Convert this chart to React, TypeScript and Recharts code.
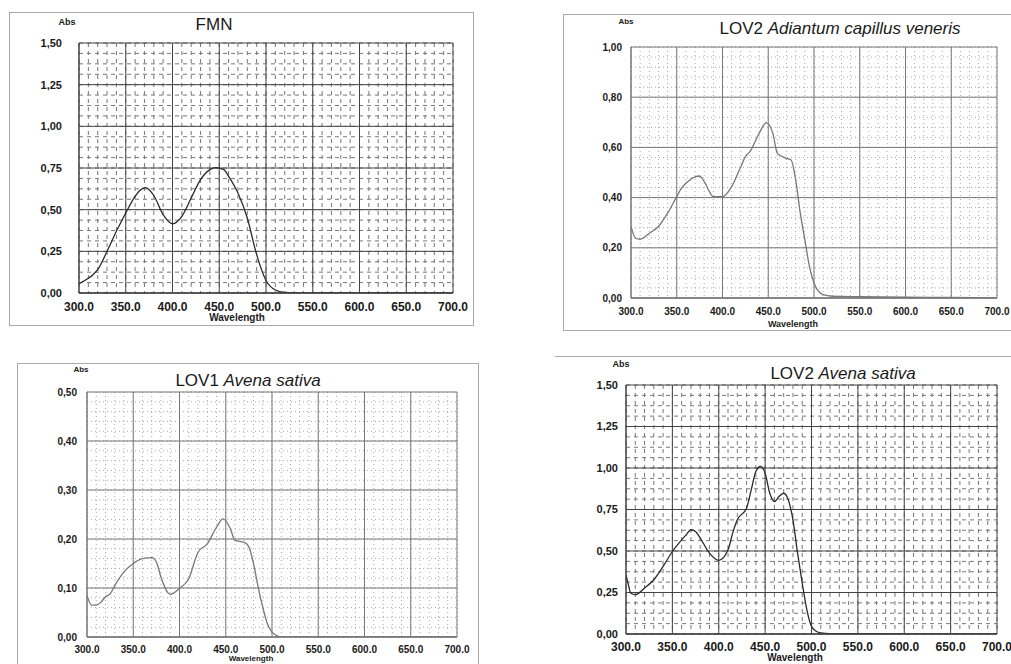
import React from "react";
import { LineChart, Line, XAxis, YAxis, CartesianGrid } from "recharts";

// ---------- DATA ----------
const xTickValues = [300, 350, 400, 450, 500, 550, 600, 650, 700];

const fmnWavelength = [300, 310, 315, 320, 330, 340, 350, 360, 365, 371, 380, 390, 400, 410, 420, 430, 440, 446, 455, 460, 470, 480, 490, 500, 510, 520, 530, 600, 700];
const fmnAbs = [0.056, 0.088, 0.11, 0.14, 0.25, 0.37, 0.48, 0.58, 0.615, 0.632, 0.585, 0.47, 0.415, 0.46, 0.57, 0.68, 0.74, 0.752, 0.74, 0.7, 0.6, 0.45, 0.23, 0.075, 0.018, 0.003, 0, 0, 0];
const fmnYTicks = [0, 0.25, 0.5, 0.75, 1.0, 1.25, 1.5];

const adiWavelength = [300, 305, 310, 320, 330, 340, 350, 355, 360, 370, 375, 380, 390, 400, 410, 420, 425, 430, 440, 448, 455, 460, 470, 475, 480, 485, 490, 495, 500, 505, 510, 520, 550, 600, 650, 700];
const adiAbs = [0.285, 0.238, 0.234, 0.258, 0.285, 0.338, 0.404, 0.437, 0.457, 0.483, 0.486, 0.464, 0.404, 0.404, 0.444, 0.523, 0.563, 0.583, 0.656, 0.699, 0.656, 0.576, 0.556, 0.55, 0.47, 0.338, 0.232, 0.126, 0.06, 0.026, 0.013, 0.007, 0.005, 0.003, 0.002, 0.0];
const adiYTicks = [0, 0.2, 0.4, 0.6, 0.8, 1.0];

const lov1Wavelength = [300, 305, 310, 315, 320, 325, 330, 340, 350, 360, 370, 375, 380, 390, 400, 410, 420, 430, 440, 447, 455, 460, 470, 475, 480, 485, 490, 495, 500, 505, 510, 700];
const lov1Abs = [0.085, 0.065, 0.065, 0.071, 0.082, 0.088, 0.105, 0.133, 0.15, 0.16, 0.162, 0.153, 0.122, 0.087, 0.099, 0.119, 0.173, 0.19, 0.224, 0.241, 0.221, 0.197, 0.193, 0.184, 0.15, 0.102, 0.061, 0.027, 0.01, 0.003, 0.0, 0.0];
const lov1YTicks = [0, 0.1, 0.2, 0.3, 0.4, 0.5];

const lov2Wavelength = [300, 303, 305, 310, 320, 330, 340, 350, 360, 365, 370, 375, 380, 390, 400, 410, 415, 420, 430, 435, 440, 445, 450, 455, 460, 465, 470, 475, 480, 485, 490, 495, 500, 505, 510, 520, 600, 700];
const lov2Abs = [0.357, 0.287, 0.247, 0.237, 0.277, 0.327, 0.407, 0.497, 0.567, 0.598, 0.628, 0.618, 0.578, 0.487, 0.443, 0.507, 0.608, 0.688, 0.758, 0.868, 0.979, 1.009, 0.969, 0.848, 0.798, 0.828, 0.848, 0.808, 0.688, 0.487, 0.307, 0.146, 0.046, 0.016, 0.006, 0.002, 0.001, 0.0];
const lov2YTicks = [0, 0.25, 0.5, 0.75, 1.0, 1.25, 1.5];

// ---------- helpers ----------
const toRows = (xs: number[], ys: number[]) => xs.map((x, i) => ({ wl: x, abs: ys[i] }));
const steps = (from: number, to: number, step: number) => {
  const out: number[] = [];
  for (let v = from; v <= to + 1e-9; v += step) out.push(Math.round(v * 10000) / 10000);
  return out;
};
const fmtY = (v: number) => v.toFixed(2).replace(".", ",");
const fmtX = (v: number) => v.toFixed(1);

const FONT = "'Liberation Sans', Arial, Helvetica, sans-serif";

type PanelProps = {
  left: number; top: number; width: number; height: number;
  margin: { top: number; right: number; left: number; bottom: number };
  yAxisWidth: number; xAxisHeight: number;
  rows: { wl: number; abs: number }[];
  yTicks: number[]; yMax: number;
  minorX: number[]; minorY: number[];
  yTickMargin: number; xTickMargin: number;
  yFont: number; xFont: number;
  lineColor: string; majorColor: string; minorColor: string; minorDash: string;
};

function Panel(p: PanelProps) {
  return (
    <div style={{ position: "absolute", left: p.left, top: p.top }}>
      <LineChart width={p.width} height={p.height} data={p.rows} margin={p.margin}>
        <CartesianGrid
          horizontalValues={p.minorY}
          verticalValues={p.minorX}
          stroke={p.minorColor}
          strokeDasharray={p.minorDash}
          strokeWidth={1}
        />
        <CartesianGrid
          horizontalValues={p.yTicks}
          verticalValues={xTickValues}
          stroke={p.majorColor}
          strokeWidth={1}
        />
        <XAxis
          dataKey="wl"
          type="number"
          domain={[300, 700]}
          ticks={xTickValues}
          interval={0}
          tickFormatter={fmtX}
          height={p.xAxisHeight}
          tickSize={0}
          tickMargin={p.xTickMargin}
          axisLine={{ stroke: p.majorColor, strokeWidth: 1.5 }}
          tick={{ fill: "#1a1a1a", fontSize: p.xFont, fontWeight: 700, fontFamily: FONT }}
          allowDataOverflow
        />
        <YAxis
          type="number"
          domain={[0, p.yMax]}
          ticks={p.yTicks}
          interval={0}
          tickFormatter={fmtY}
          width={p.yAxisWidth}
          tickSize={0}
          tickMargin={p.yTickMargin}
          axisLine={{ stroke: p.majorColor, strokeWidth: 1 }}
          tick={{ fill: "#1a1a1a", fontSize: p.yFont, fontWeight: 700, fontFamily: FONT }}
          allowDataOverflow
        />
        <Line
          dataKey="abs"
          type="monotone"
          stroke={p.lineColor}
          strokeWidth={1.3}
          dot={false}
          isAnimationActive={false}
        />
      </LineChart>
    </div>
  );
}

const Txt = ({ x, y, size, bold, children }: { x: number; y: number; size: number; bold?: boolean; children: React.ReactNode }) => (
  <div
    style={{
      position: "absolute", left: x, top: y, transform: "translate(-50%, -50%)",
      fontFamily: FONT, fontSize: size, fontWeight: bold ? 700 : 400, color: "#1a1a1a",
      whiteSpace: "nowrap", lineHeight: 1,
    }}
  >
    {children}
  </div>
);

const Frame = ({ l, t, r, b, sides }: { l: number; t: number; r: number; b: number; sides?: string }) => (
  <div
    style={{
      position: "absolute", left: l, top: t, width: r - l, height: b - t, boxSizing: "border-box",
      borderTop: "1px solid #aaa",
      borderLeft: sides === "top" ? "none" : "1px solid #aaa",
      borderRight: sides === "top" ? "none" : "1px solid #aaa",
      borderBottom: sides === "top" ? "none" : "1px solid #aaa",
    }}
  />
);

export default function App() {
  return (
    <div style={{ position: "absolute", left: 0, top: 0, width: 1011, height: 664, background: "#fff", overflow: "hidden" }}>
      <Frame l={9} t={12} r={474} b={326} />
      <Frame l={563} t={14} r={1020} b={331} />
      <Frame l={17} t={363} r={479} b={700} />
      <Frame l={555} t={356} r={1020} b={700} sides="top" />

      {/* FMN */}
      <Panel
        left={9} top={12} width={464} height={313}
        margin={{ top: 31, right: 20, left: 0, bottom: 0 }}
        yAxisWidth={70} xAxisHeight={32}
        rows={toRows(fmnWavelength, fmnAbs)} yTicks={fmnYTicks} yMax={1.5}
        minorX={steps(300, 700, 10)} minorY={steps(0, 1.5, 0.0625)}
        yTickMargin={17} xTickMargin={9} yFont={11} xFont={12}
        lineColor="#2a2a2a" majorColor="#444" minorColor="#777" minorDash="4 4"
      />
      <Txt x={67} y={22} size={9} bold>Abs</Txt>
      <Txt x={214} y={24} size={17}>FMN</Txt>
      <Txt x={237} y={318} size={10} bold>Wavelength</Txt>

      {/* LOV2 Adiantum */}
      <Panel
        left={563} top={14} width={448} height={316}
        margin={{ top: 33, right: 14, left: 0, bottom: 0 }}
        yAxisWidth={68} xAxisHeight={32}
        rows={toRows(adiWavelength, adiAbs)} yTicks={adiYTicks} yMax={1.0}
        minorX={steps(300, 700, 10)} minorY={steps(0, 1.0, 0.04)}
        yTickMargin={9} xTickMargin={10} yFont={10} xFont={10}
        lineColor="#777" majorColor="#777" minorColor="#aaa" minorDash="1 3"
      />
      <Txt x={626} y={22} size={8} bold>Abs</Txt>
      <Txt x={840} y={28} size={17}>LOV2 <i>Adiantum capillus veneris</i></Txt>
      <Txt x={793} y={324} size={9} bold>Wavelength</Txt>

      {/* LOV1 Avena */}
      <Panel
        left={17} top={363} width={461} height={301}
        margin={{ top: 29, right: 21, left: 0, bottom: 0 }}
        yAxisWidth={70} xAxisHeight={27}
        rows={toRows(lov1Wavelength, lov1Abs)} yTicks={lov1YTicks} yMax={0.5}
        minorX={steps(300, 700, 10)} minorY={steps(0, 0.5, 0.02)}
        yTickMargin={10} xTickMargin={9} yFont={10} xFont={10}
        lineColor="#777" majorColor="#777" minorColor="#aaa" minorDash="1 3"
      />
      <Txt x={81} y={370} size={8} bold>Abs</Txt>
      <Txt x={248} y={380} size={17}>LOV1 <i>Avena sativa</i></Txt>
      <Txt x={251} y={659} size={8} bold>Wavelength</Txt>

      {/* LOV2 Avena */}
      <Panel
        left={560} top={356} width={451} height={308}
        margin={{ top: 29, right: 14, left: 0, bottom: 0 }}
        yAxisWidth={66} xAxisHeight={30}
        rows={toRows(lov2Wavelength, lov2Abs)} yTicks={lov2YTicks} yMax={1.5}
        minorX={steps(300, 700, 10)} minorY={steps(0, 1.5, 0.0625)}
        yTickMargin={8} xTickMargin={8} yFont={11} xFont={12}
        lineColor="#2a2a2a" majorColor="#444" minorColor="#777" minorDash="4 4"
      />
      <Txt x={621} y={364} size={9} bold>Abs</Txt>
      <Txt x={843} y={373} size={17}>LOV2 <i>Avena sativa</i></Txt>
      <Txt x={795} y={658} size={10} bold>Wavelength</Txt>
    </div>
  );
}
